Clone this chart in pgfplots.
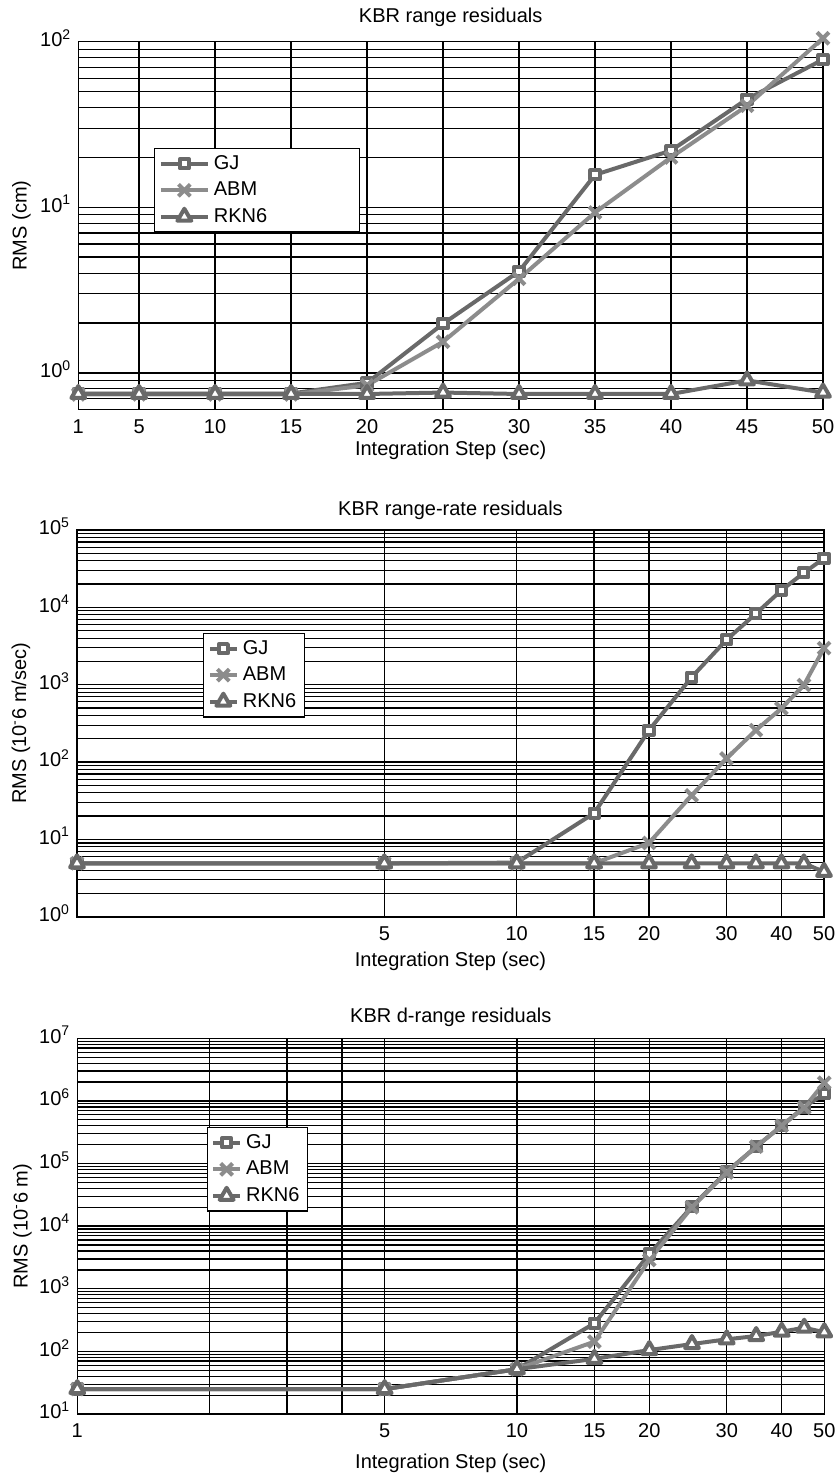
\documentclass[border=0pt]{standalone}
\usepackage{fontspec}
\setmainfont{Liberation Sans}
\usepackage{pgfplots}
\pgfplotsset{compat=1.18}

\definecolor{gjcol}{RGB}{105,105,105}
\definecolor{abmcol}{RGB}{140,140,140}
\definecolor{rkncol}{RGB}{105,105,105}

\pgfplotsset{
  kbr/.style={
    scale only axis,
    anchor=north west,
    font=\fontsize{10}{12}\selectfont,
    /pgf/number format/assume math mode=true,
    typeset ticklabels with strut,
    axis line style={black, line width=0.8pt},
    tick style={black, line width=0.6pt},
    major tick length=3pt,
    minor tick length=0pt,
    grid=both,
    major grid style={black, line width=0.7pt},
    minor grid style={black, line width=0.6pt},
    clip=false,
    legend cell align=left,
    legend style={draw=black, line width=0.6pt, fill=white, anchor=north west,
      inner xsep=2pt, inner ysep=1pt, nodes={inner ysep=2.4pt},
      font=\fontsize{10}{12}\selectfont},
    title style={anchor=center, yshift=-6pt},
    xlabel style={anchor=center},
    ylabel style={anchor=center},
  },
  gj/.style={gjcol, line width=2pt, line join=round, mark=square*, mark size=2.3pt, mark options={fill=white, solid}},
  abm/.style={abmcol, line width=2pt, line join=round, mark=x, mark size=4.2pt, mark options={solid}},
  rkn/.style={rkncol, line width=2pt, line join=round, mark=triangle*, mark size=4pt, mark options={fill=white, solid}},
  longimg/.style={legend image code/.code={
    \draw[mark repeat=2, mark phase=2, ##1] plot coordinates {(0pt,0pt) (11.75pt,0pt) (23.5pt,0pt)};}},
  shortimg/.style={legend image code/.code={
    \draw[mark repeat=2, mark phase=2, ##1] plot coordinates {(0pt,0pt) (6.75pt,0pt) (13.5pt,0pt)};}},
}

\begin{document}
\begin{tikzpicture}
\path[use as bounding box] (0,0) rectangle (418.5pt,-737.5pt);

% range residuals
\begin{axis}[kbr, longimg,
  at={(39.15pt,-20.85pt)}, width=372.35pt, height=183.8pt,
  ymode=log, xmin=1, xmax=50, ymin=0.602, ymax=100,
  xtick={1,5,10,15,20,25,30,35,40,45,50},
  ytick={1,10,100},
  yticklabels={10\textsuperscript{0},10\textsuperscript{1},10\textsuperscript{2}},
  minor ytick={0.7,0.8,0.9,2,3,4,5,6,7,8,9,20,30,40,50,60,70,80,90},
  title={KBR range residuals},
  title style={at={(axis description cs:0.5,1.067)}},
  xlabel={Integration Step (sec)},
  xlabel style={at={(axis description cs:0.5,-0.1115)}},
  ylabel={RMS (cm)},
  ylabel style={at={(axis description cs:-0.0765,0.5)}},
  legend style={at={(axis description cs:0.102,0.711)}},
]
\addplot[gj] coordinates {(1,0.75) (5,0.75) (10,0.75) (15,0.75) (20,0.87) (25,1.98) (30,4.1) (35,15.7) (40,22) (45,45) (50,78)};
\addplot[abm] coordinates {(1,0.74) (5,0.74) (10,0.74) (15,0.74) (20,0.84) (25,1.54) (30,3.7) (35,9.3) (40,20) (45,41) (50,105)};
\addplot[rkn] coordinates {(1,0.745) (5,0.745) (10,0.745) (15,0.745) (20,0.745) (25,0.76) (30,0.745) (35,0.745) (40,0.745) (45,0.9) (50,0.76)};
\addlegendentry{GJ}
\addlegendentry{ABM}
\addlegendentry{RKN6\hspace*{42pt}}
\end{axis}

% range-rate residuals
\begin{axis}[kbr, shortimg,
  at={(38.5pt,-265pt)}, width=373.5pt, height=193.35pt,
  xmode=log, ymode=log, xmin=1, xmax=50, ymin=1, ymax=1e5,
  xtick={5,10,15,20,30,40,50},
  xticklabels={5,10,15,20,30,40,50},
  minor xtick={},
  ytick={1,10,100,1000,10000,100000},
  yticklabels={10\textsuperscript{0},10\textsuperscript{1},10\textsuperscript{2},10\textsuperscript{3},10\textsuperscript{4},10\textsuperscript{5}},
  minor ytick={2,3,4,5,6,7,8,9,20,30,40,50,60,70,80,90,200,300,400,500,600,700,800,900,
    2000,3000,4000,5000,6000,7000,8000,9000,2e4,3e4,4e4,5e4,6e4,7e4,8e4,9e4},
  title={KBR range-rate residuals},
  title style={at={(axis description cs:0.5,1.052)}},
  xlabel={Integration Step (sec)},
  xlabel style={at={(axis description cs:0.5,-0.1164)}},
  ylabel={RMS (10\textsuperscript{-}6 m/sec)},
  ylabel style={at={(axis description cs:-0.075,0.5)}},
  legend style={at={(axis description cs:0.169,0.734)}},
]
\addplot[gj] coordinates {(1,4.9) (5,4.9) (10,5.0) (15,21.8) (20,258) (25,1250) (30,3800) (35,8300) (40,16600) (45,28000) (50,43000)};
\addplot[abm] coordinates {(1,4.9) (5,4.9) (10,4.9) (15,4.9) (20,9.0) (25,37) (30,111) (35,258) (40,494) (45,990) (50,2970)};
\addplot[rkn] coordinates {(1,4.9) (5,4.9) (10,4.9) (15,4.9) (20,4.9) (25,4.9) (30,4.9) (35,4.9) (40,4.9) (45,4.9) (50,3.8)};
\addlegendentry{GJ}
\addlegendentry{ABM}
\addlegendentry{RKN6}
\end{axis}

% d-range residuals
\begin{axis}[kbr, shortimg,
  at={(38.65pt,-519.15pt)}, width=373.5pt, height=187.85pt,
  xmode=log, ymode=log, xmin=1, xmax=50, ymin=10, ymax=1e7,
  xtick={1,5,10,15,20,30,40,50},
  xticklabels={1,5,10,15,20,30,40,50},
  minor xtick={2,3,4},
  ytick={10,100,1000,10000,100000,1e6,1e7},
  yticklabels={10\textsuperscript{1},10\textsuperscript{2},10\textsuperscript{3},10\textsuperscript{4},10\textsuperscript{5},10\textsuperscript{6},10\textsuperscript{7}},
  minor ytick={20,30,40,50,60,70,80,90,200,300,400,500,600,700,800,900,
    2000,3000,4000,5000,6000,7000,8000,9000,2e4,3e4,4e4,5e4,6e4,7e4,8e4,9e4,
    2e5,3e5,4e5,5e5,6e5,7e5,8e5,9e5,2e6,3e6,4e6,5e6,6e6,7e6,8e6,9e6},
  title={KBR d-range residuals},
  title style={at={(axis description cs:0.5,1.057)}},
  xlabel={Integration Step (sec)},
  xlabel style={at={(axis description cs:0.5,-0.1304)}},
  ylabel={RMS (10\textsuperscript{-}6 m)},
  ylabel style={at={(axis description cs:-0.0734,0.5)}},
  legend style={at={(axis description cs:0.173,0.764)}},
]
\addplot[gj] coordinates {(1,25) (5,25) (10,52) (15,281) (20,3600) (25,20500) (30,74000) (35,186000) (40,400000) (45,800000) (50,1300000)};
\addplot[abm] coordinates {(1,25) (5,25) (10,52) (15,143) (20,2880) (25,20000) (30,72000) (35,186000) (40,400000) (45,780000) (50,1950000)};
\addplot[rkn] coordinates {(1,25) (5,25) (10,52) (15,76) (20,105) (25,131) (30,156) (35,176) (40,206) (45,239) (50,202)};
\addlegendentry{GJ}
\addlegendentry{ABM}
\addlegendentry{RKN6}
\end{axis}
\end{tikzpicture}
\end{document}
